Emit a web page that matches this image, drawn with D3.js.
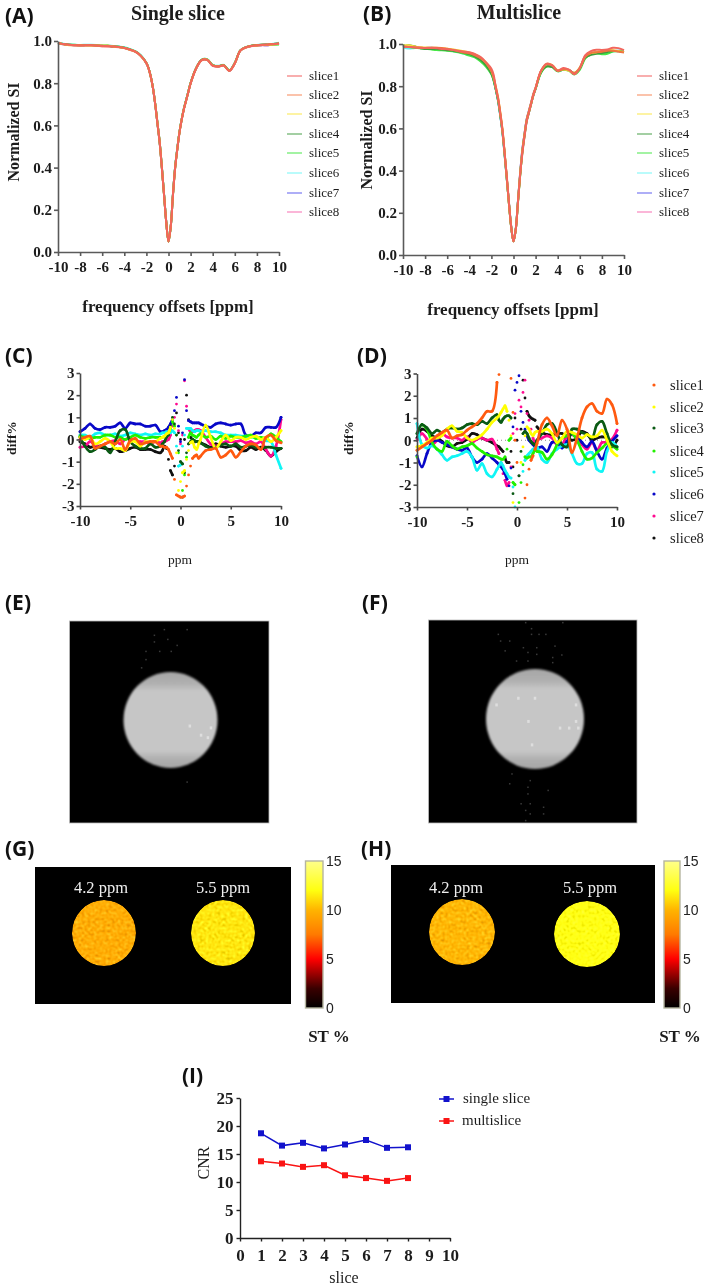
<!DOCTYPE html>
<html><head><meta charset="utf-8">
<script src="https://cdn.jsdelivr.net/npm/d3@7"></script>
<style>
html,body{margin:0;padding:0;background:#fff}
svg{display:block;filter:blur(0.35px)}
text{font-family:"Liberation Serif",serif;fill:#1c1c1c}
.lt{font-family:"Open Sans",sans-serif;font-weight:700;font-size:21px;fill:#111}
</style></head><body>
<script>
const sliceNames=["slice1","slice2","slice3","slice4","slice5","slice6","slice7","slice8"];
const curveColors=["#f2665c","#f0743f","#f3dc3a","#3f9a3f","#45e845","#5cf0f0","#5555e8","#f06aa8"];
const legendColors=["#f79a9a","#fbb596","#fdf08c","#8cc48c","#8cf08c","#a8fbfb","#9a9af5","#fba4cf"];
const diffColors=["#ff5a10","#ffff00","#0a5a14","#22f000","#10f5f5","#0808c8","#ff0a90","#111111"];

const offsets=[-10,-9.5,-9,-8.5,-8,-7.5,-7,-6.5,-6,-5.5,-5,-4.5,-4,-3.5,-3,-2.5,
 -2,-1.8,-1.6,-1.4,-1.2,-1,-.8,-.6,-.4,-.2,0,.2,.4,.6,.8,1,1.2,1.4,1.6,1.8,2,
 2.5,3,3.5,4,4.5,5,5.5,6,6.5,7,7.5,8,8.5,9,9.5,10];

const meanSingle=[.99,.985,.982,.981,.98,.98,.98,.979,.977,.977,.974,.972,.968,.96,.95,.93,
 .895,.87,.83,.775,.70,.61,.52,.40,.27,.14,.05,.12,.27,.40,.49,.57,.63,.68,.72,.76,.80,
 .87,.91,.912,.885,.88,.885,.86,.895,.955,.97,.977,.98,.982,.983,.985,.988];
const meanMulti=[.99,.988,.985,.982,.98,.98,.978,.976,.974,.97,.965,.96,.955,.945,.93,.905,
 .865,.835,.79,.74,.67,.59,.48,.36,.24,.13,.065,.12,.25,.38,.49,.57,.64,.68,.72,.76,.79,
 .87,.90,.895,.873,.88,.875,.86,.885,.94,.955,.96,.962,.965,.968,.968,.965];
const spreadSingle=.35, spreadMulti=.8;

const diffSingle1=[0,.1,.15,-.4,-.3,-.2,-.1,-.2,0,-.45,-.05,.05,-.2,-.15,-.1,-.1,
 -.3,-.3,-.35,-.35,-.45,-.65,-.85,-1.8,-2.5,-2.55,-2.6,-2.6,-2.55,-2.1,-1.6,-1.2,-.85,-.75,-.7,-.85,-.75,
 -.5,-.45,-.4,-.8,-.7,-.5,-.8,-.55,-.3,-.2,-.25,-.45,.1,.2,-.05,-.15];
const diffSingle2=[.1,0,.1,-.2,-.1,.05,-.1,-.4,-.4,-.5,-.1,-.1,-.3,-.1,-.1,-.1,
 .05,.1,.15,.25,.3,.55,.9,.5,-.6,-2.3,-1.9,-1.5,-1.4,-.9,-.5,-.15,-.1,-.35,-.45,-.2,0,
 .65,.1,-.4,-.1,.2,-.05,.1,.1,0,.1,.15,0,.1,-.1,.1,.4];
const diffSingle3=[.1,-.3,-.55,-.45,-.3,-.35,-.6,-.1,.4,.45,-.1,-.3,-.4,-.4,-.2,-.35,
 -.3,-.2,-.1,.1,.2,.6,1,.7,.2,-.5,-1,-1.1,-1.5,-.6,-.2,-.1,0,-.05,-.1,-.1,-.15,
 -.3,-.4,-.35,-.25,-.2,-.3,-.2,-.35,-.3,-.25,-.35,-.4,-.35,-.35,-.4,-.4];
const diffSingle4=[.15,.1,.05,.1,.1,.2,.2,.1,.1,0,.1,.2,.1,.05,.1,.1,
 .1,.1,.15,.2,.3,.5,.8,.6,.2,-.6,-2.6,-2.3,-1.6,-.8,.1,.3,.2,.15,.1,.2,.25,
 .1,.15,0,.15,.05,.15,.1,.1,.15,.2,.05,.1,.05,.25,.1,-.1];
const diffSingle5=[.2,.2,.1,.25,.3,.2,.2,.25,.15,.2,.3,.25,.2,.25,.2,.25,
 .25,.3,.3,.35,.3,.3,.4,.3,-.3,-1.2,-1.15,-.3,.2,.5,.5,.5,.4,.35,.4,.4,.35,
 .4,.35,.35,.3,.2,.2,.2,.15,.15,.1,.1,.05,-.05,-.1,-.7,-1.3];
const diffSingle6=[.35,.5,.7,.5,.45,.55,.55,.6,.75,.5,.75,.7,.7,.6,.6,.65,
 .35,.35,.4,.45,.55,.7,.9,1.3,1.9,.6,-.1,.3,2.7,1.3,.85,.8,.75,.75,.75,.75,.7,
 .6,.55,.7,.75,.7,.65,.7,.7,.2,.15,.3,.3,.55,.55,.55,1];
const diffSingle7=[-.35,-.3,-.1,-.25,-.3,-.2,-.1,-.05,-.2,0,.05,-.05,-.1,-.1,-.2,-.1,
 -.15,-.1,-.1,-.05,0,.2,.6,1,1.6,.4,-.2,.2,2.65,1.5,.5,.35,.35,.4,.45,.45,.4,
 .1,-.2,-.3,-.2,-.1,-.1,-.1,-.05,-.15,-.1,-.2,-.1,-.45,-.75,-.3,.9];
const diffSingle8=[-.1,-.2,-.35,-.3,-.35,-.4,-.45,-.4,-.55,-.5,-.4,-.35,-.45,-.45,-.45,-.55,
 -.6,-.5,-.3,-.4,-.9,-1.4,-1.6,-1.2,1.2,.3,0,-2.6,0,2,.9,.1,0,-.1,-.1,-.1,-.15,
 -.25,-.35,-.2,-.3,-.35,-.3,-.3,-.5,-.5,-.35,-.45,-.35,-.5,-.75,-.55,-.4];

const diffMulti1=[-.45,-.3,-.15,0,.2,.35,.45,.1,.2,.25,.45,.6,.75,1,1.3,1.3,
 2.6,2.95,null,null,null,null,null,2.78,1.25,0,-1,null,null,null,-2.6,-2,-1.3,-.9,-.7,-.4,-.15,
 .7,1,.65,.2,.9,.5,-.55,.1,1,1.5,1.65,1.3,1.2,1.85,1.6,.75];
const diffMulti2=[-.3,-.25,-.1,.1,.1,.2,.5,.65,.4,.35,.1,0,.1,.25,.5,.8,
 1,1.1,1.25,1.4,1.55,1.3,.9,.2,-2.8,null,null,null,-1,-.3,.2,.6,.5,.3,.2,.35,.4,
 .4,.5,.3,-.1,.1,.4,.35,.25,.1,.25,.15,.2,.45,0,-.5,-.7];
const diffMulti3=[.3,.7,.55,.3,.45,.35,.5,.55,.5,.55,.7,.75,.7,.85,.75,1,
 1.15,.9,.8,.95,1.05,1.1,1.1,1,-2.4,null,null,-1.6,-.5,.3,.4,.3,.1,-.05,-.15,-.2,0,
 .3,.7,.75,.35,-.2,-.3,.5,.5,.35,.25,.1,.7,.85,.3,-.2,-.3];
const diffMulti4=[-.75,.7,.5,-.1,-.4,-.5,-.05,-.25,-.4,-.3,-.25,-.15,-.35,-.5,-.65,-.7,
 -.75,-.8,-.85,-.85,-.75,-.4,0,.1,-1.9,-2,null,-2.8,-1.9,-1.1,-.75,-.8,-.75,-.75,-.6,-.45,-.5,
 -.55,-.85,-.65,-.2,.1,.2,.3,0,-.5,-.85,-.8,-.55,-.35,-.15,-.25,-.4];
const diffMulti5=[.75,-.2,-.35,-.25,-.4,-.65,-.9,-.75,-.7,-.6,-.5,-.75,-1.35,-1.05,-1.5,-1.65,
 -1.3,-1.15,-1,-1.15,-1.35,-1.5,-1.65,-1.7,-2.1,-3,null,null,null,-1.4,-.9,-.7,-.6,-.5,-.4,-.35,-.3,
 -.85,-1,-.6,-.4,-.25,-.2,-.6,-1.05,-1.05,-.6,-.55,-1.3,-1.4,-.5,-.1,-.3];
const diffMulti6=[-.7,-1.2,-.6,-.1,0,-.1,-.2,-.3,-.4,-.45,-.35,-.75,-1,-.85,-.6,-.8,
 -1,-1.1,-1.2,-1.3,-1.5,-1.75,-2.05,-1.25,.6,2.25,2.6,2.9,1.3,.8,.5,.2,0,-.1,-.2,-.3,-.35,
 -.3,-.5,-.1,-.1,-.35,-.05,.3,.2,-.1,-.3,-.05,-.5,-.85,-.35,-.05,.2];
const diffMulti7=[0,.3,.05,-.2,0,.3,.15,.1,.1,0,.15,-.1,.05,.1,0,.05,
 -.4,-.6,-1,-1.5,-1.8,-2.05,-1.9,-1.2,.3,1.2,.5,1.8,1.5,2.15,2.7,1.2,.9,.5,.1,-.1,0,
 .1,.2,.1,-.2,-.2,.2,.25,.1,-.2,-.4,-.1,-.45,-.1,-.1,.05,.45];
const diffMulti8=[.1,.5,.4,.2,.1,-.05,-.25,-.3,-.15,-.1,.05,.3,.25,.1,0,-.1,
 -.25,-.3,-.4,-.5,-.8,-1,-1,-.5,-1.2,1,0,-1.6,.5,2.7,1.9,1.3,1.1,1,.95,.9,.6,
 .35,.25,.25,.3,.3,.15,0,.1,.4,.3,0,.1,.15,.1,-.3,0];

const diffSingle=[diffSingle1,diffSingle2,diffSingle3,diffSingle4,diffSingle5,diffSingle6,diffSingle7,diffSingle8];
const diffMulti=[diffMulti1,diffMulti2,diffMulti3,diffMulti4,diffMulti5,diffMulti6,diffMulti7,diffMulti8];

const sliceNo=[1,2,3,4,5,6,7,8];
const cnrSingle=[18.7,16.5,17,16,16.7,17.5,16.1,16.2];
const cnrMulti=[13.7,13.3,12.7,13,11.2,10.7,10.2,10.7];

// speckles in the MR images, as [column,row] of the 64 x 64 matrix
const specksSingleDark=[[30.2,2.5],[37.5,2.5],[27,4.3],[27,6.4],[31.3,5.6],[34.3,7.5],[24.3,9.4],[28.7,9.4],[32.4,9.4],[24.3,12],[22.9,14.6],[37.5,50.8]];
const specksSingleBright=[[38.2,32.8],[45,33.4],[41.8,35.7],[44,36.5]];
const specksMultiDark=[[29.6,.6],[41,.6],[31.4,2.5],[21.2,4.3],[31.4,4.3],[33.7,4.3],[35.8,4.3],[21.9,6.4],[24.7,6.4],[28.9,8.5],[23.3,9.5],[33,8.5],[38.6,8],[30.3,10],[33,10.6],[37.9,11.6],[40.7,10.8],[26.8,12.7],[30.3,12.7],[37.9,13.2],[25.4,48.3],[31,50.4],[24.7,51.4],[30.3,52.5],[36.5,53.5],[30.3,54.6],[28.2,57.7],[31,57.7],[29.6,59.8],[35.1,58.8],[31,60.9],[35.1,60.9],[29.6,63]];
const specksMultiBright=[[27.2,24.2],[20.5,26.3],[30.3,31.5],[44.9,26.3],[40,33.6],[42.8,33.6],[44.9,31.5],[45.6,33.6],[31.4,38.9],[32.3,24.2]];

const stTicks=[0,5,10,15];
const stStops=[0,2,5,7.5,10,12,15];
const stColors=["#000000","#3a0000","#ff0000","#ff7a00","#ffb400","#ffff10","#ffff8a"];
const stSingle=[9.5,11.2];
const stMulti=[9.9,11.9];
const ppmLabels=["4.2 ppm","5.5 ppm"];

const W=709,H=1287;
const svg=d3.select("body").append("svg").attr("width",W).attr("height",H).attr("viewBox",`0 0 ${W} ${H}`);
const defs=svg.append("defs");

const f=defs.append("filter").attr("id","mottle").attr("x",0).attr("y",0).attr("width",1).attr("height",1)
  .attr("color-interpolation-filters","sRGB");
f.append("feTurbulence").attr("type","fractalNoise").attr("baseFrequency",.33).attr("numOctaves",1).attr("seed",4).attr("result","n");
f.append("feColorMatrix").attr("in","n").attr("type","matrix")
  .attr("values",".33 .33 .33 0 0 .33 .33 .33 0 0 .33 .33 .33 0 0 0 0 0 0 1").attr("result","g");
f.append("feComposite").attr("in","SourceGraphic").attr("in2","g").attr("operator","arithmetic")
  .attr("k1",0).attr("k2",1).attr("k3",.55).attr("k4",-.25).attr("result","c");
f.append("feComposite").attr("in","c").attr("in2","SourceGraphic").attr("operator","in");
defs.append("filter").attr("id","soft").attr("x","-10%").attr("y","-10%").attr("width","120%").attr("height","120%")
  .append("feGaussianBlur").attr("stdDeviation",1.2);
const disc=defs.append("linearGradient").attr("id","disc").attr("x1",0).attr("y1",0).attr("x2",0).attr("y2",1);
[[0,"#a6a6a6"],[.12,"#b0b0b0"],[.2,"#c6c6c6"],[.82,"#c6c6c6"],[.9,"#b0b0b0"],[1,"#a6a6a6"]]
  .forEach(d=>disc.append("stop").attr("offset",d[0]).attr("stop-color",d[1]));

function letter(t,x,y){svg.append("text").attr("class","lt").attr("x",x).attr("y",y).text(t);}
function txt(t,x,y,size,opt={}){
  const e=svg.append("text").attr("x",x).attr("y",y).attr("font-size",size).attr("text-anchor",opt.anchor||"middle")
    .attr("font-weight",opt.bold?700:400).text(t);
  if(opt.rot) e.attr("transform",`rotate(${opt.rot} ${x} ${y})`);
  if(opt.fill) e.style("fill",opt.fill);
  if(opt.family) e.style("font-family",opt.family);
  return e;
}
function axes(x,y,xt,yt,opt){
  const col=opt.color,sw=opt.sw,fs=opt.fs,fmt=opt.yfmt||(d=>String(d));
  const yb=y.range()[0],xl=x.range()[0];
  const ax=svg.append("g").attr("transform",`translate(0,${yb})`)
    .call(d3.axisBottom(x).tickValues(xt).tickFormat(d=>String(d)).tickSize(opt.tick).tickPadding(opt.padx||3).tickSizeOuter(0));
  const ay=svg.append("g").attr("transform",`translate(${xl},0)`)
    .call(d3.axisLeft(y).tickValues(yt).tickFormat(fmt).tickSize(opt.tick).tickPadding(opt.pady||2).tickSizeOuter(0));
  [ax,ay].forEach(g=>{
    g.attr("font-family",null).attr("font-size",null);
    g.selectAll("path,line").attr("stroke",col).attr("stroke-width",sw);
    g.selectAll("text").attr("font-size",fs).attr("font-weight",700);
  });
}

function zPanel(xr,yr,mean,diff,spread,lx,lys){
  const x=d3.scaleLinear([-10,10],xr),y=d3.scaleLinear([0,1],yr);
  const line=d3.line().x((d,i)=>x(offsets[i])).y(d=>y(d)).curve(d3.curveCatmullRom.alpha(.5));
  d3.range(7,-1,-1).forEach(s=>{
    const vals=mean.map((m,i)=>m*(1+(diff[s][i]===null?0:diff[s][i])*spread/100));
    svg.append("path").datum(vals).attr("d",line).attr("fill","none").attr("stroke",curveColors[s]).attr("stroke-width",2);
  });
  axes(x,y,d3.range(-10,11,2),d3.range(0,1.01,.2),{color:"#5a5a5a",sw:1.6,fs:15,tick:4,yfmt:d3.format(".1f"),padx:5});
  sliceNames.forEach((n,i)=>{
    svg.append("line").attr("x1",lx).attr("x2",lx+15).attr("y1",lys[i]).attr("y2",lys[i]).attr("stroke",legendColors[i]).attr("stroke-width",1.6);
    txt(n,lx+22,lys[i]+4,13,{anchor:"start"});
  });
}
const legY=[76,95,114,134,153,173,193,212];
zPanel([58,279],[252,41],meanSingle,diffSingle,spreadSingle,287,legY);
zPanel([403,624],[255,44],meanMulti,diffMulti,spreadMulti,637,legY);

function diffPanel(xr,yr,diff,zero){
  const x=d3.scaleLinear([-10,10],xr),y=d3.scaleLinear([-3,3],yr);
  if(zero) svg.append("line").attr("x1",x(-10)).attr("x2",x(10)).attr("y1",y(0)).attr("y2",y(0))
    .attr("stroke","#888").attr("stroke-width",1).attr("stroke-dasharray","1 3");
  const line=d3.line().x(d=>x(d[0])).y(d=>y(d[1])).curve(d3.curveCatmullRom.alpha(.5));
  d3.range(7,-1,-1).forEach(s=>{
    const pts=offsets.map((o,i)=>[o,diff[s][i]]);
    const runs=[];let cur=[];
    pts.forEach(p=>{
      if(p[1]===null){if(cur.length)runs.push(cur);cur=[];return;}
      if(cur.length){
        const q=cur[cur.length-1];
        const limit=Math.abs(p[0])<=2&&Math.abs(q[0])<=2?1.3:2.6;
        if(Math.abs((p[1]-q[1])/(p[0]-q[0]))>limit){runs.push(cur);cur=[];}
      }
      cur.push(p);
    });
    if(cur.length)runs.push(cur);
    const g=svg.append("g");
    runs.filter(r=>r.length>1).forEach(r=>g.append("path").datum(r).attr("d",line).attr("fill","none")
      .attr("stroke",diffColors[s]).attr("stroke-width",2.7).attr("stroke-linecap","round"));
    g.selectAll("circle").data(pts.filter(p=>p[1]!==null)).join("circle")
      .attr("cx",d=>x(d[0])).attr("cy",d=>y(d[1])).attr("r",1.4).attr("fill",diffColors[s]);
  });
  axes(x,y,[-10,-5,0,5,10],[-3,-2,-1,0,1,2,3],{color:"#4a4a4a",sw:1.6,fs:15,tick:3.5,padx:6});
}
diffPanel([80,281],[506,373],diffSingle,false);
diffPanel([417,617],[507,373.5],diffMulti,true);

function mrImage(x0,x1,y0,y1,cx,cy,rx,ry,dark,bright){
  const cs=d3.scaleLinear([0,64],[x0,x1]),rs=d3.scaleLinear([0,64],[y0,y1]);
  svg.append("rect").attr("x",x0).attr("y",y0).attr("width",x1-x0).attr("height",y1-y0).attr("fill","#000").attr("stroke","#bbb").attr("stroke-width",.8);
  svg.append("ellipse").attr("cx",cx).attr("cy",cy).attr("rx",rx).attr("ry",ry).attr("fill","url(#disc)").attr("filter","url(#soft)");
  svg.selectAll(null).data(dark).join("rect").attr("x",d=>cs(d[0])).attr("y",d=>rs(d[1])).attr("width",1.5).attr("height",1.5).attr("fill","#3a3a3a");
  svg.selectAll(null).data(bright).join("rect").attr("x",d=>cs(d[0])).attr("y",d=>rs(d[1])).attr("width",2.5).attr("height",3).attr("fill","#dedede");
}
mrImage(69.5,269,621,823,170.5,720,47,48,specksSingleDark,specksSingleBright);
mrImage(428.5,637,620,823,535,719,49,50,specksMultiDark,specksMultiBright);

const hot=d3.scaleLinear(stStops,stColors);
function stMap(x0,x1,y0,y1,discs,vals,labelX,labelY){
  svg.append("rect").attr("x",x0).attr("y",y0).attr("width",x1-x0).attr("height",y1-y0).attr("fill","#000");
  discs.forEach((d,i)=>{
    svg.append("ellipse").attr("cx",d[0]).attr("cy",d[1]).attr("rx",d[2]).attr("ry",d[3]).attr("fill",hot(vals[i])).attr("filter","url(#mottle)");
    txt(ppmLabels[i],labelX[i],labelY,16.5,{fill:"#eee"});
  });
}
stMap(35,291,867,1004,[[104,933,32,33],[223,933,32,33]],stSingle,[101,223],893);
stMap(391,655,865,1003,[[462,932,33,33],[587,934,33,33]],stMulti,[456,590],893);

function colorbar(x0,x1,y0,y1,stx,id){
  const y=d3.scaleLinear([0,15],[y1,y0]);
  const g=defs.append("linearGradient").attr("id",id).attr("x1",0).attr("y1",1).attr("x2",0).attr("y2",0);
  stStops.forEach((s,i)=>g.append("stop").attr("offset",s/15).attr("stop-color",stColors[i]));
  svg.append("rect").attr("x",x0).attr("y",y0).attr("width",x1-x0).attr("height",y1-y0).attr("fill",`url(#${id})`).attr("stroke","#b5b5a0").attr("stroke-width",1.4);
  stTicks.forEach(t=>txt(t,x1+3,y(t)+5,14,{anchor:"start",family:"'Liberation Sans',sans-serif",fill:"#222"}));
  txt("ST %",stx,1042,17,{bold:true});
}
colorbar(305.5,323,861,1008,329,"g1");
colorbar(664,680,861,1008,680,"g2");

{
  const x=d3.scaleLinear([0,10],[240,450]),y=d3.scaleLinear([0,25],[1238,1098]);
  axes(x,y,d3.range(0,11),d3.range(0,26,5),{color:"#222",sw:1.4,fs:17,tick:3.5,padx:7,pady:3});
  const line=d3.line().x((d,i)=>x(sliceNo[i])).y(d=>y(d));
  [[cnrSingle,"#1212cc"],[cnrMulti,"#fa1414"]].forEach(([v,c])=>{
    svg.append("path").datum(v).attr("d",line).attr("fill","none").attr("stroke",c).attr("stroke-width",1.5);
    svg.selectAll(null).data(v).join("rect").attr("x",(d,i)=>x(sliceNo[i])-3).attr("y",d=>y(d)-3).attr("width",6).attr("height",6).attr("fill",c);
  });
  [["single slice","#1212cc",1099,463],["multislice","#fa1414",1121,462]].forEach(([t,c,yy,tx])=>{
    svg.append("line").attr("x1",439).attr("x2",454).attr("y1",yy).attr("y2",yy).attr("stroke",c).attr("stroke-width",1.5);
    svg.append("rect").attr("x",443.5).attr("y",yy-3).attr("width",6).attr("height",6).attr("fill",c);
    txt(t,tx,yy+4,15,{anchor:"start"});
  });
}

txt("Single slice",178,20,20,{bold:true});
txt("Multislice",519,19,20,{bold:true});
txt("Normalized SI",19,132,16,{bold:true,rot:-90});
txt("Normalized SI",372,140,16,{bold:true,rot:-90});
txt("frequency offsets [ppm]",168,312,17,{bold:true});
txt("frequency offsets [ppm]",513,315,17,{bold:true});
txt("diff%",16,438,13.5,{bold:true,rot:-90});
txt("diff%",353,438,13.5,{bold:true,rot:-90});
txt("ppm",180,564,13.5);
txt("ppm",517,564,13.5);
txt("CNR",209,1163,16,{rot:-90});
txt("slice",344,1283,16);

const dLegY=[385,407,428,451,472,494,516,538];
sliceNames.forEach((n,i)=>{
  svg.append("circle").attr("cx",654).attr("cy",dLegY[i]).attr("r",1.6).attr("fill",diffColors[i]);
  txt(n,670,dLegY[i]+4.5,14.5,{anchor:"start"});
});

[["(A)",5,23],["(B)",363,21],["(C)",5,363],["(D)",357,363],["(E)",5,610],["(F)",362,610],["(G)",5,856],["(H)",361,856],["(I)",182,1083]]
  .forEach(d=>letter(...d));
</script>
</body></html>
